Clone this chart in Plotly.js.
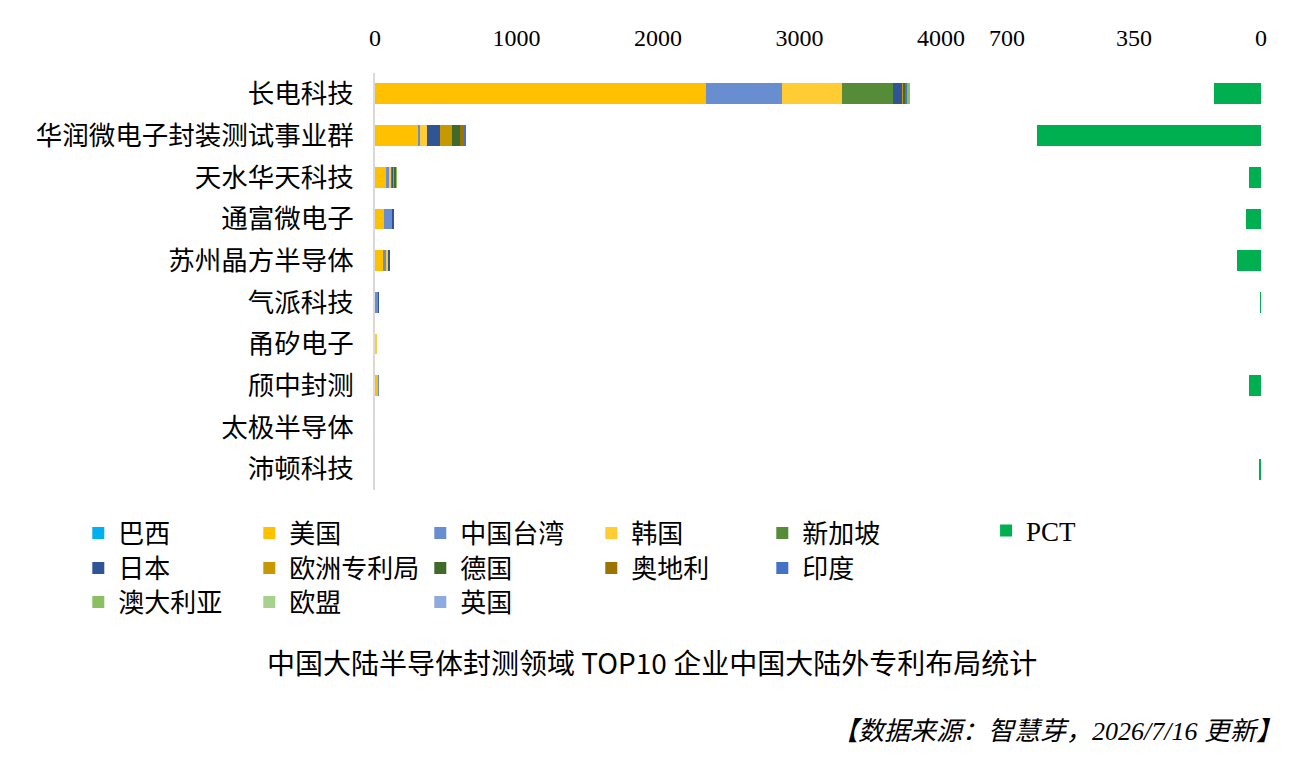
<!DOCTYPE html>
<html>
<head>
<meta charset="utf-8">
<script src="https://cdn.plot.ly/plotly-3.0.1.min.js"></script>
<style>
  html, body { margin: 0; padding: 0; background: #fff; }
  #chart { width: 1305px; height: 768px; }
</style>
</head>
<body>
<div id="chart"></div>
<script>
// companies, top to bottom
var companies = ['长电科技', '华润微电子封装测试事业群', '天水华天科技', '通富微电子', '苏州晶方半导体',
                 '气派科技', '甬矽电子', '颀中封测', '太极半导体', '沛顿科技'];

// patents filed outside mainland China, by office
var brazil    = [3, 0, 0, 0, 0, 0, 0, 0, 0, 0];
var usa       = [2335, 305, 80, 61, 54, 0, 0, 20, 0, 0];
var taiwan    = [540, 16, 16, 61, 24, 20, 0, 6, 0, 0];
var korea     = [423, 47, 18, 0, 12, 0, 12, 0, 0, 0];
var singapore = [363, 0, 5, 0, 0, 0, 0, 0, 0, 0];
var japan     = [63, 89, 7, 9, 14, 10, 0, 5, 0, 0];
var epo       = [8, 89, 10, 0, 0, 0, 0, 0, 0, 0];
var germany   = [12, 56, 10, 0, 0, 0, 0, 0, 0, 0];
var austria   = [6, 24, 0, 0, 0, 0, 0, 0, 0, 0];
var india     = [10, 19, 0, 0, 0, 0, 0, 0, 0, 0];
var australia = [8, 0, 6, 0, 0, 0, 0, 0, 0, 0];
var eu        = [6, 0, 0, 0, 0, 0, 0, 0, 0, 0];
var uk        = [5, 0, 0, 0, 0, 0, 0, 0, 0, 0];
var pct       = [130, 617, 33, 41, 66, 2, 0, 33, 0, 5];

var offices = [
    ['巴西', brazil, '#00B0F0', 'legend'],
    ['美国', usa, '#FFC000', 'legend'],
    ['中国台湾', taiwan, '#698ED0', 'legend'],
    ['韩国', korea, '#FFCD33', 'legend'],
    ['新加坡', singapore, '#568B38', 'legend'],
    ['日本', japan, '#2F5597', 'legend2'],
    ['欧洲专利局', epo, '#C89800', 'legend2'],
    ['德国', germany, '#416A2A', 'legend2'],
    ['奥地利', austria, '#9A7300', 'legend2'],
    ['印度', india, '#4472C4', 'legend2'],
    ['澳大利亚', australia, '#8BC062', 'legend3'],
    ['欧盟', eu, '#A9D18E', 'legend3'],
    ['英国', uk, '#8FAADC', 'legend3']
];

var cjk = '"Noto Sans CJK SC", "Noto Sans", sans-serif';
var serif = '"Liberation Serif", "Noto Sans CJK SC", serif';

var data = offices.map(function (o) {
    return {
        type: 'bar',
        orientation: 'h',
        name: o[0],
        x: o[1],
        y: companies,
        xaxis: 'x',
        yaxis: 'y',
        legend: o[3],
        marker: {color: o[2], line: {width: 0}}
    };
});

data.push({
    type: 'bar',
    orientation: 'h',
    name: 'PCT',
    x: pct,
    y: companies,
    xaxis: 'x2',
    yaxis: 'y2',
    legend: 'legend4',
    marker: {color: '#00B050', line: {width: 0}}
});

function legendRow(y) {
    return {
        orientation: 'h',
        xref: 'container', yref: 'container',
        x: 0.06, y: y,
        xanchor: 'left', yanchor: 'middle',
        entrywidth: 126,
        traceorder: 'normal',
        bgcolor: 'rgba(0,0,0,0)',
        font: {family: cjk, size: 26, color: '#000'}
    };
}

var layout = {
    width: 1305,
    height: 768,
    paper_bgcolor: '#fff',
    plot_bgcolor: '#fff',
    barmode: 'stack',
    bargap: 0.5,
    margin: {l: 375, r: 44, t: 73, b: 278},
    showlegend: true,
    xaxis: {
        domain: [0, 0.6388],
        range: [0, 4000],
        dtick: 1000,
        side: 'top',
        showgrid: false,
        zeroline: false,
        showline: false,
        ticks: '',
        ticklabelstandoff: 21,
        tickfont: {family: serif, size: 24, color: '#000'}
    },
    yaxis: {
        anchor: 'x',
        autorange: 'reversed',
        showgrid: false,
        zeroline: false,
        showline: true,
        linecolor: '#D9D9D9',
        linewidth: 2,
        ticks: '',
        ticklabelstandoff: 14,
        tickfont: {family: cjk, size: 26.5, color: '#000'}
    },
    xaxis2: {
        domain: [0.7133, 1],
        anchor: 'y2',
        range: [700, 0],
        tickvals: [0, 350, 700],
        side: 'top',
        showgrid: false,
        zeroline: false,
        showline: false,
        ticks: '',
        ticklabelstandoff: 21,
        tickfont: {family: serif, size: 24, color: '#000'}
    },
    yaxis2: {
        anchor: 'x2',
        autorange: 'reversed',
        showgrid: false,
        zeroline: false,
        showline: false,
        showticklabels: false,
        ticks: ''
    },
    legend: legendRow(1 - 533 / 768),
    legend2: legendRow(1 - 568 / 768),
    legend3: legendRow(1 - 602 / 768),
    legend4: {
        orientation: 'h',
        xref: 'container', yref: 'container',
        x: 0.7556, y: 1 - 531 / 768,
        xanchor: 'left', yanchor: 'middle',
        bgcolor: 'rgba(0,0,0,0)',
        font: {family: serif, size: 27, color: '#000'}
    },
    annotations: [
        {
            text: '中国大陆半导体封测领域 TOP10 企业中国大陆外专利布局统计',
            xref: 'paper', yref: 'paper',
            x: (652 - 375) / 886, y: (490 - 662) / 417,
            xanchor: 'center', yanchor: 'middle',
            showarrow: false,
            font: {family: cjk, size: 28, color: '#000'}
        },
        {
            text: '<i>【数据来源：智慧芽，2026/7/16 更新】</i>',
            xref: 'paper', yref: 'paper',
            x: (1284 - 375) / 886, y: (490 - 731) / 417,
            xanchor: 'right', yanchor: 'middle',
            showarrow: false,
            font: {family: serif, size: 26, color: '#000'}
        }
    ]
};

Plotly.newPlot('chart', data, layout, {displayModeBar: false, staticPlot: true});
</script>
</body>
</html>
